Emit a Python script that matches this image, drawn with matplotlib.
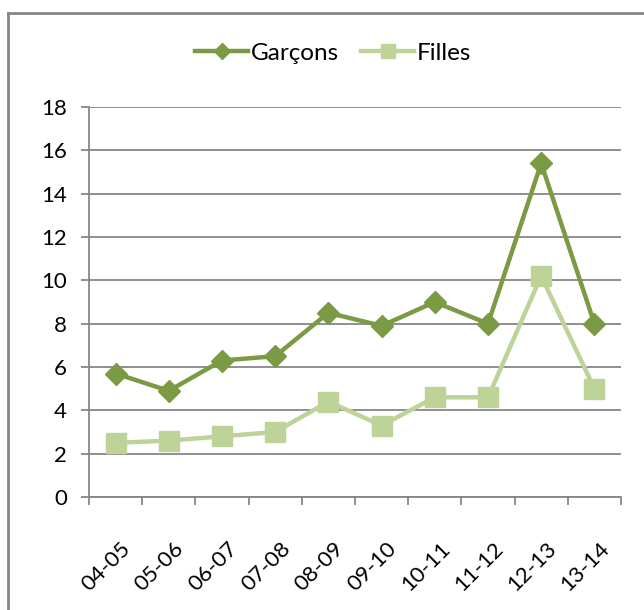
import matplotlib
matplotlib.use("Agg")
import matplotlib.pyplot as plt
import matplotlib.transforms as mtransforms
from matplotlib.lines import Line2D

# data
years = ["04-05", "05-06", "06-07", "07-08", "08-09", "09-10", "10-11", "11-12", "12-13", "13-14"]
garcons = [5.7, 4.9, 6.3, 6.5, 8.5, 7.9, 9.0, 8.0, 15.4, 8.0]
filles = [2.5, 2.6, 2.8, 3.0, 4.4, 3.3, 4.6, 4.6, 10.2, 5.0]
yticks = [0, 2, 4, 6, 8, 10, 12, 14, 16, 18]

dark = "#7A9B43"
light = "#BDD397"
gray = "#878787"

plt.rcParams["font.family"] = ["Lato", "DejaVu Sans"]

W, H = 644, 610
fig = plt.figure(figsize=(W / 100, H / 100), dpi=100)
ax = fig.add_axes([89 / W, (H - 497) / H, (621 - 89) / W, (497 - 107) / H])

x = list(range(len(years)))
ax.plot(x, garcons, color=dark, lw=3.2, marker="D", ms=11, mec=dark, label="Garçons", zorder=3)
ax.plot(x, filles, color=light, lw=3.2, marker="s", ms=15, mec=light, label="Filles", zorder=3)

ax.set_xlim(-0.5, len(years) - 0.5)
ax.set_ylim(0, 18)
ax.set_yticks(yticks)
ax.yaxis.grid(True, color=gray, lw=1.3)
ax.set_axisbelow(True)

ax.set_xticks(x)
ax.set_xticklabels(years, rotation=45, ha="right", va="top", rotation_mode="anchor")
ax.set_xticks([i - 0.5 for i in range(len(years) + 1)], minor=True)
ax.tick_params(axis="x", which="major", length=0, pad=30, labelsize=16)
ax.tick_params(axis="x", which="minor", length=6, width=1.3, color=gray, direction="out")
ax.tick_params(axis="y", length=6, width=1.3, color=gray, pad=10, labelsize=16)
shift = mtransforms.ScaledTranslation(5 / 100, 0, fig.dpi_scale_trans)
for lab in ax.get_xticklabels():
    lab.set_transform(lab.get_transform() + shift)

for s in ["top", "right"]:
    ax.spines[s].set_visible(False)
for s in ["left", "bottom"]:
    ax.spines[s].set_color(gray)
    ax.spines[s].set_linewidth(1.3)

fig.legend(loc="center", bbox_to_anchor=(333 / W, 1 - 53 / H), ncol=2, frameon=False,
           fontsize=17.5, handlelength=2.2, handletextpad=0.1, columnspacing=0.9,
           markerscale=0.7)

# chart frame (cropped on the right and bottom)
fig.add_artist(Line2D([8 / W, 8 / W], [0, 1 - 13 / H], color=gray, lw=2))
fig.add_artist(Line2D([8 / W, 1], [1 - 13 / H, 1 - 13 / H], color=gray, lw=2))

fig.savefig("out.png", dpi=100)
